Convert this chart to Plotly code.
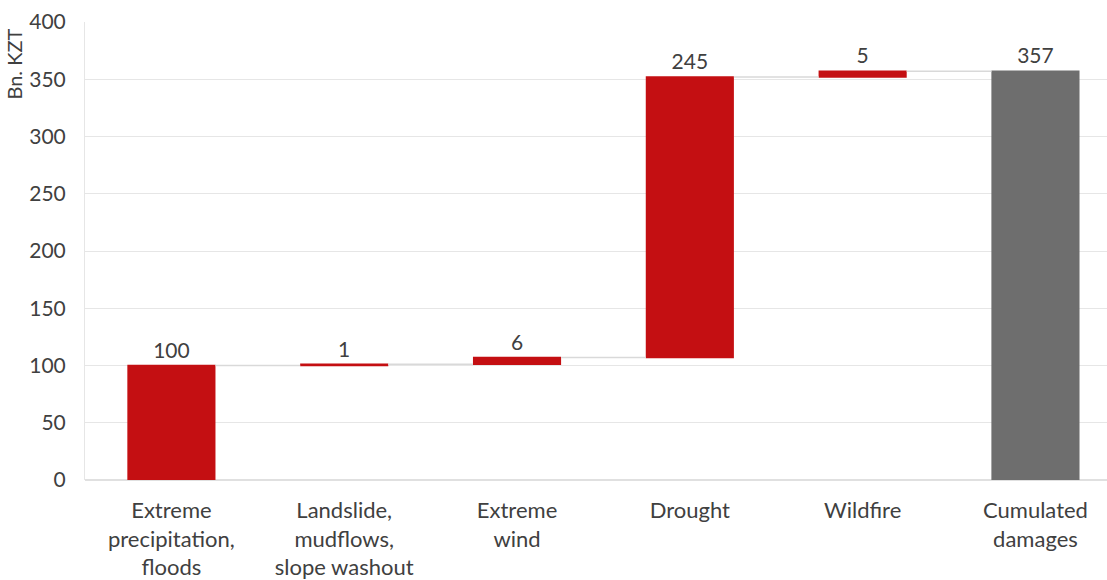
import plotly.graph_objects as go

# Climate-related damages by hazard type, Bn. KZT
categories = [
    "Extreme<br>precipitation,<br>floods",
    "Landslide,<br>mudflows,<br>slope washout",
    "Extreme<br>wind",
    "Drought",
    "Wildfire",
    "Cumulated<br>damages",
]
increments = [100, 1, 6, 245, 5]
total_value = sum(increments)
values = increments + [0]
measures = ["relative"] * len(increments) + ["total"]
labels = [str(v) for v in increments] + [str(total_value)]

RED = "#C40F12"
GREY = "#6E6E6E"
TEXT = "#404040"
FONT = "Lato"

fig = go.Figure(
    go.Waterfall(
        x=categories,
        y=values,
        measure=measures,
        text=labels,
        textposition="outside",
        textfont=dict(family=FONT, size=21, color=TEXT),
        increasing=dict(marker=dict(color=RED)),
        decreasing=dict(marker=dict(color=RED)),
        totals=dict(marker=dict(color=GREY)),
        connector=dict(line=dict(color="#D9D9D9", width=1.5)),
        width=0.51,
        cliponaxis=False,
        hoverinfo="skip",
    )
)

fig.add_annotation(
    text="Bn. KZT",
    textangle=-90,
    xref="paper", yref="paper",
    x=-0.069, y=0.99,
    xanchor="center", yanchor="top",
    showarrow=False,
    font=dict(family=FONT, size=20, color=TEXT),
)

fig.update_layout(
    width=1107,
    height=580,
    margin=dict(l=85, r=0, t=22, b=98),
    paper_bgcolor="white",
    plot_bgcolor="white",
    showlegend=False,
    font=dict(family=FONT, size=21, color=TEXT),
    xaxis=dict(
        range=[-0.5, 5.414],
        showgrid=False,
        showline=False,
        ticks="",
        tickfont=dict(family=FONT, size=22, color=TEXT),
        ticklabelstandoff=15,
    ),
    yaxis=dict(
        range=[0, 400],
        dtick=50,
        showgrid=True,
        gridcolor="#E6E6E6",
        gridwidth=1,
        zeroline=True,
        zerolinecolor="#E0E0E0",
        zerolinewidth=1.5,
        showline=True,
        linecolor="#E6E6E6",
        linewidth=1,
        ticks="",
        tickfont=dict(family=FONT, size=21, color=TEXT),
        ticklabelstandoff=14,
    ),
)

fig.write_html("out.html")
